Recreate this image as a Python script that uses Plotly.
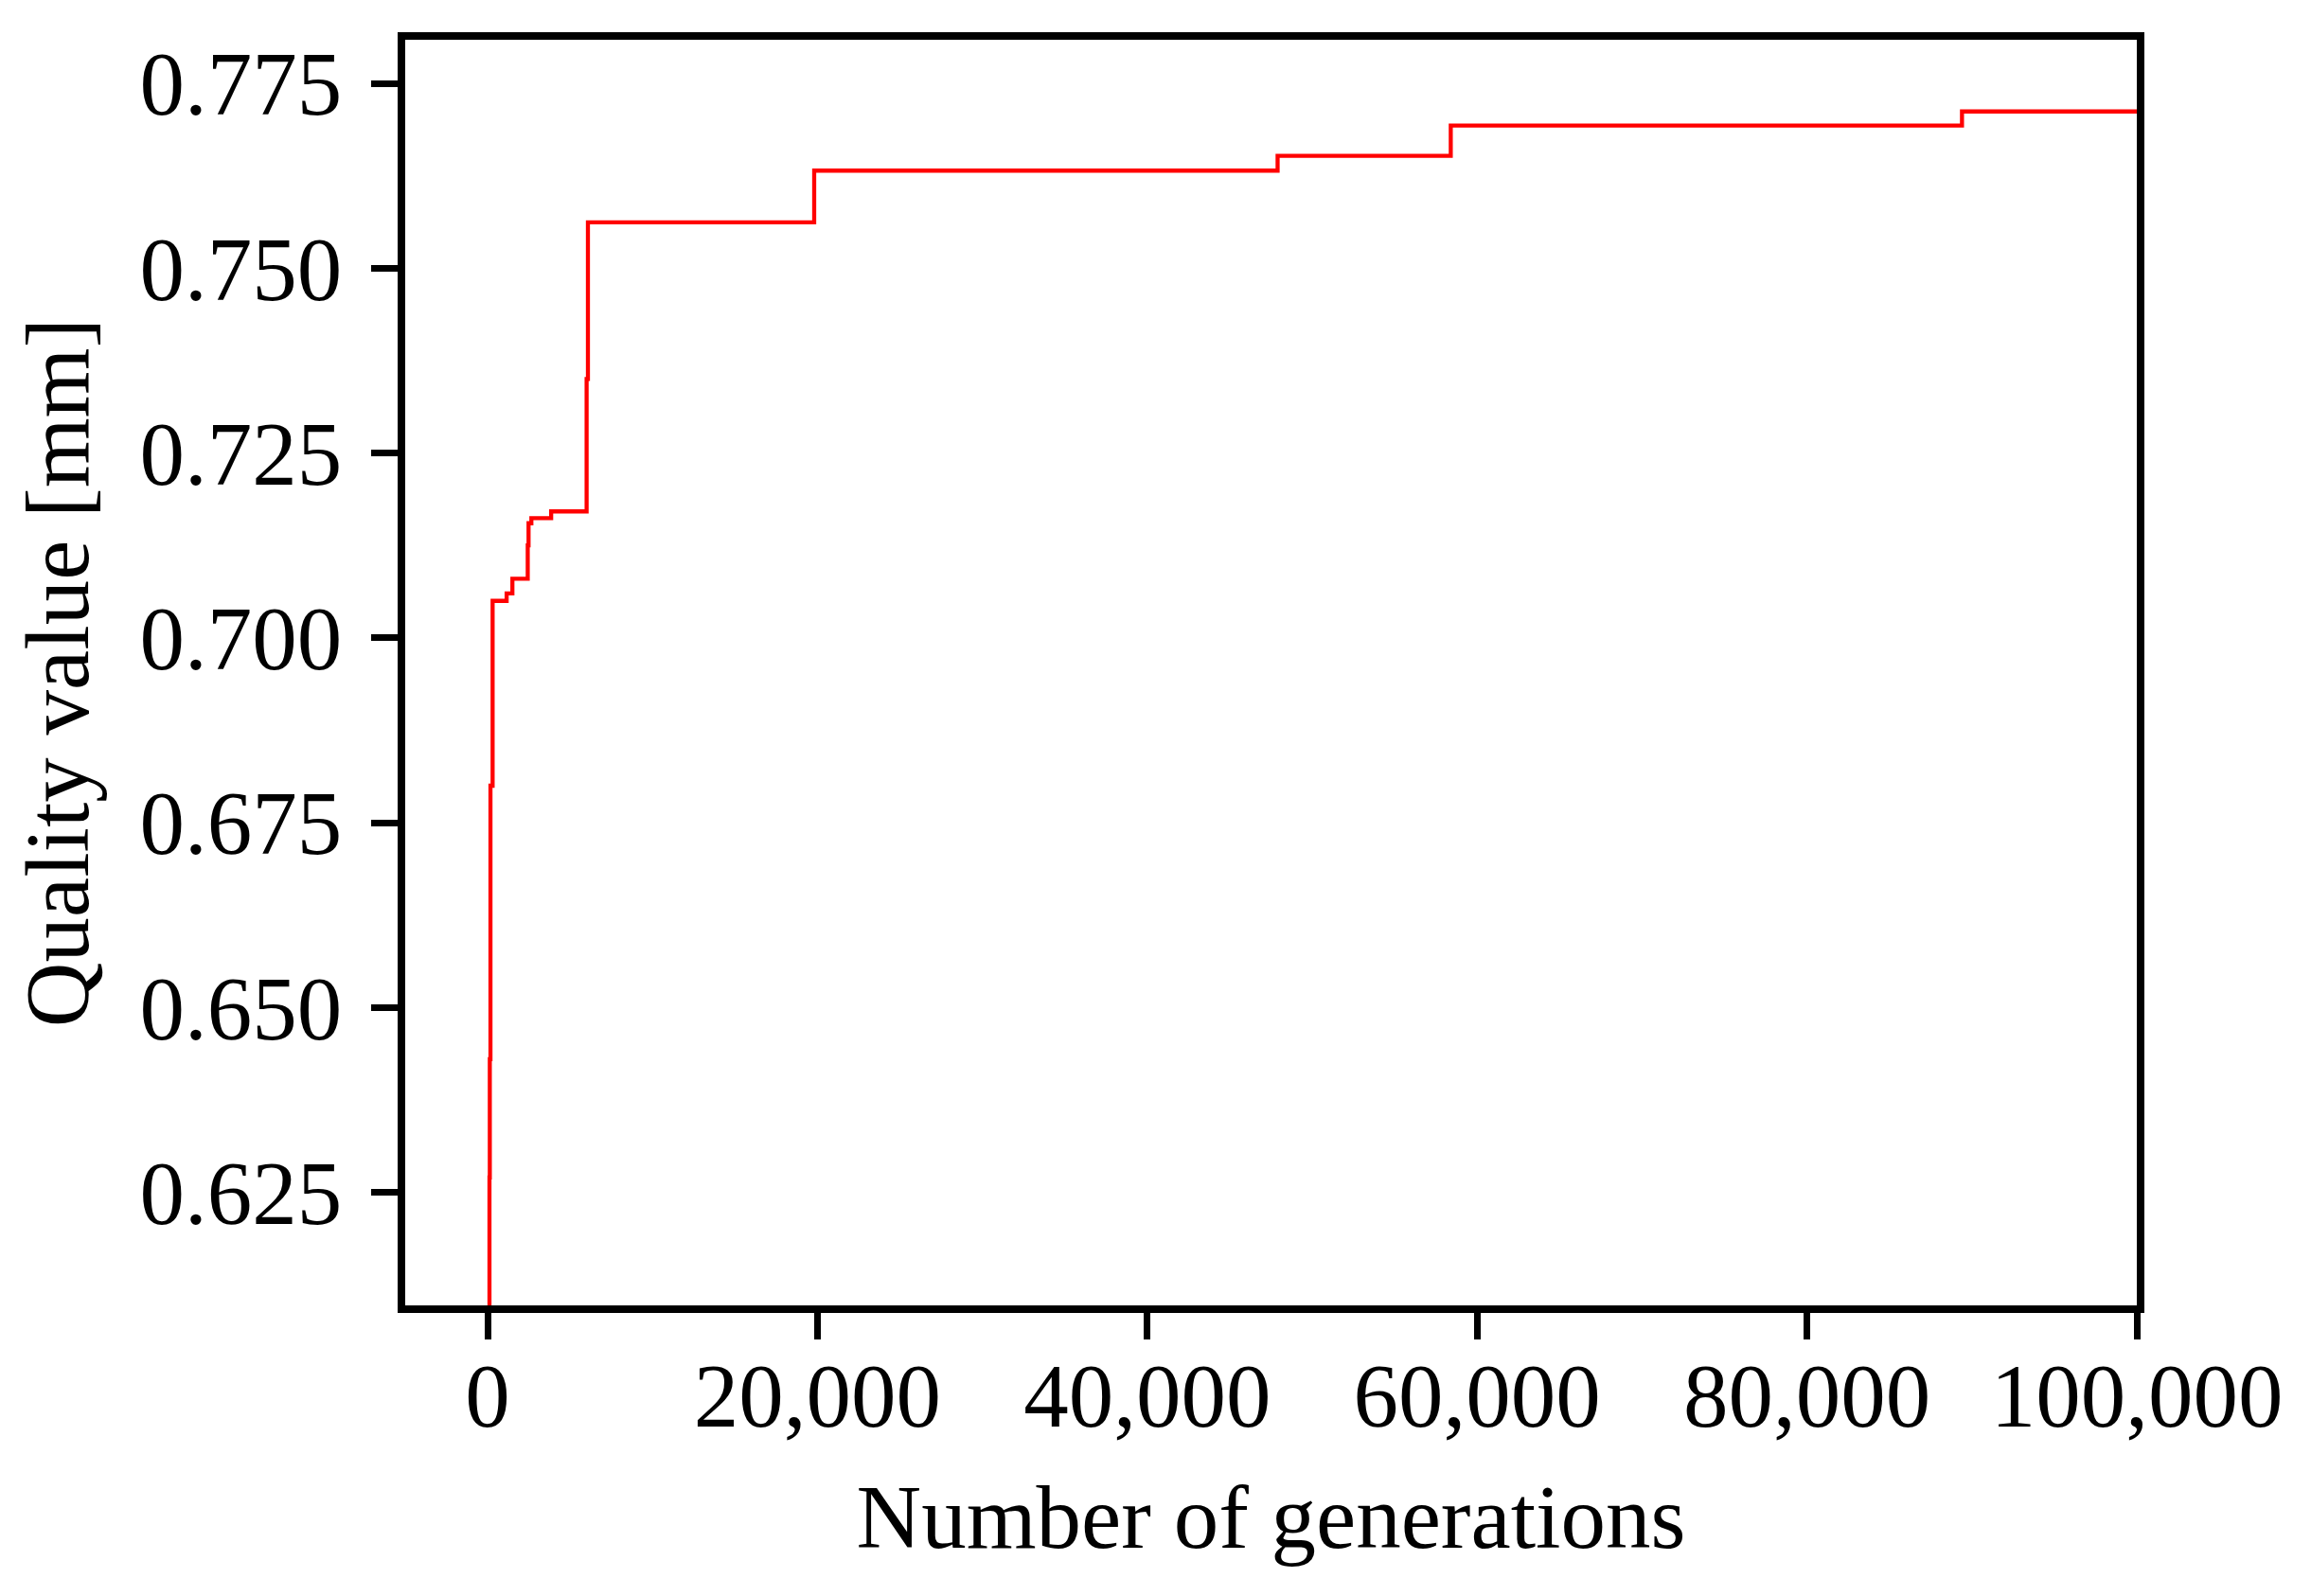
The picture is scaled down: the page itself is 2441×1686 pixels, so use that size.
import plotly.graph_objects as go

# Step data (generation at which the best quality value changes)
generations = [0, 110, 130, 170, 300, 1150, 1500, 2430, 2480, 2650, 3850, 6000, 6080, 19800, 47900, 58400, 89400, 100000]
quality = [0.590, 0.627, 0.643, 0.680, 0.705, 0.706, 0.708, 0.7125, 0.7155, 0.7162, 0.7171, 0.735, 0.7562, 0.7632, 0.7652, 0.7693, 0.7712, 0.7712]

x_ticks = [0, 20000, 40000, 60000, 80000, 100000]
y_ticks = [0.625, 0.650, 0.675, 0.700, 0.725, 0.750, 0.775]

FONT = "Liberation Serif"

fig = go.Figure()
fig.add_trace(go.Scatter(
    x=generations, y=quality, mode="lines",
    line=dict(color="#ff0000", width=4.3, shape="hv"),
    showlegend=False, hoverinfo="skip",
))

axis_common = dict(
    showline=True, linecolor="black", linewidth=7.5, mirror=True,
    showgrid=False, zeroline=False,
    ticks="outside", ticklen=28, tickwidth=7, tickcolor="black",
    tickfont=dict(family=FONT, size=95, color="black"),
)

fig.update_layout(
    width=2441, height=1686,
    paper_bgcolor="white", plot_bgcolor="white",
    margin=dict(l=420, r=192, t=34, b=315, autoexpand=False),
    font=dict(family=FONT, size=95, color="black"),
    xaxis=dict(
        **axis_common,
        range=[-5000, 100000],
        tickvals=x_ticks, tickformat=",",
        ticklabelstandoff=-22,
        title=dict(text="Number of generations", font=dict(family=FONT, size=95, color="black"), standoff=45),
    ),
    yaxis=dict(
        **axis_common,
        range=[0.6097, 0.7809],
        tickvals=y_ticks, tickformat=".3f",
        ticklabelstandoff=12,
        title=dict(text="Quality value [mm]", font=dict(family=FONT, size=95, color="black"), standoff=45),
    ),
)

fig.write_html("out.html")
